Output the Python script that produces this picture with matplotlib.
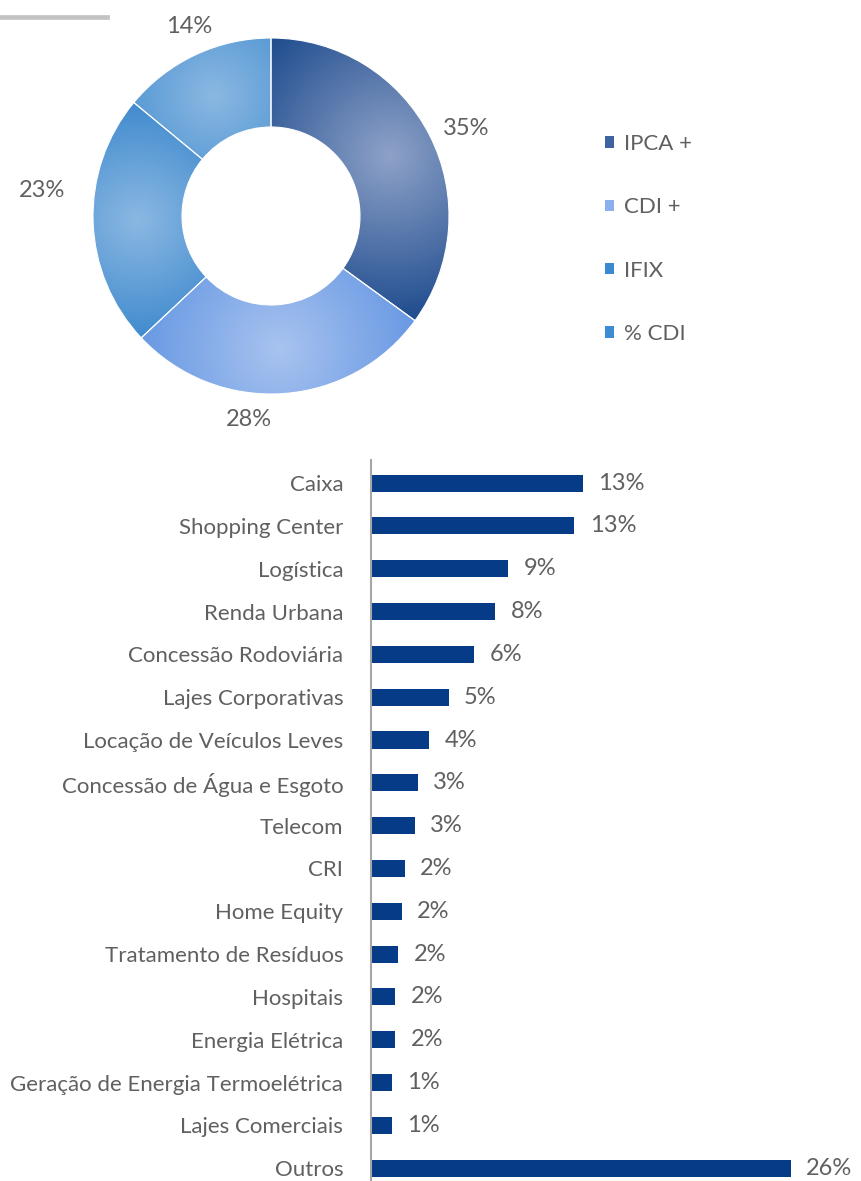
import numpy as np
import matplotlib
matplotlib.use("Agg")
import matplotlib.pyplot as plt
from matplotlib.patches import Patch, Wedge
from matplotlib.colors import LinearSegmentedColormap

plt.rcParams['font.family'] = ['Lato', 'DejaVu Sans']

# donut data
idx_names = ["IPCA +", "CDI +", "IFIX", "% CDI"]
idx_vals = [35, 28, 23, 14]
idx_light = ["#8ea2c8", "#a8c3ef", "#8bb8e2", "#8bb8e2"]
idx_dark = ["#234f90", "#5f93e2", "#267bc8", "#2a7ec9"]
idx_mid = ["#3f62a0", "#8ab0ee", "#3a8ad2", "#3c8cd3"]

# bar data
sectors = ["Caixa", "Shopping Center", "Logística", "Renda Urbana",
           "Concessão Rodoviária", "Lajes Corporativas",
           "Locação de Veículos Leves", "Concessão de Água e Esgoto",
           "Telecom", "CRI", "Home Equity", "Tratamento de Resíduos",
           "Hospitais", "Energia Elétrica",
           "Geração de Energia Termoelétrica", "Lajes Comerciais", "Outros"]
shares = [13.1, 12.6, 8.5, 7.7, 6.4, 4.8, 3.6, 2.9, 2.7, 2.1, 1.9, 1.7,
          1.5, 1.5, 1.3, 1.3, 26.0]
share_labels = ["13%", "13%", "9%", "8%", "6%", "5%", "4%", "3%", "3%",
                "2%", "2%", "2%", "2%", "2%", "1%", "1%", "26%"]

W, H = 862, 1181
fig = plt.figure(figsize=(W / 100, H / 100), dpi=100)
txt = "#606060"

# gray rule at top left
fig.add_artist(plt.Line2D([0, 107 / W], [1 - 17 / H, 1 - 17 / H],
                          color="#c3c3c3", lw=3.4))

# ---- donut ----
cx, cy, half = 271, 216, 200
ax = fig.add_axes([(cx - half) / W, 1 - (cy + half) / H, 2 * half / W, 2 * half / H])
lim = half / 178
wedges, _ = ax.pie(idx_vals, startangle=90, counterclock=False, radius=1,
                   wedgeprops=dict(width=0.5, edgecolor="white", linewidth=0.8))
ax.set_xlim(-lim, lim)
ax.set_ylim(-lim, lim)
ax.set_aspect("equal")
ax.axis("off")

# radial shading inside each wedge
gx, gy = np.meshgrid(np.linspace(-1, 1, 500), np.linspace(-1, 1, 500))
start = 90.0
for w, v, cl, cd in zip(wedges, idx_vals, idx_light, idx_dark):
    mid = np.deg2rad(start - v * 3.6 / 2)
    start -= v * 3.6
    mx, my = 0.75 * np.cos(mid), 0.75 * np.sin(mid)
    d = np.clip(np.hypot(gx - mx, gy - my) / 0.9, 0, 1)
    cmap = LinearSegmentedColormap.from_list("g", [cl, cd])
    im = ax.imshow(d, cmap=cmap, extent=(-1, 1, -1, 1), origin="lower",
                   vmin=0, vmax=1, zorder=w.get_zorder() + 0.5)
    im.set_clip_path(w)
    ax.add_patch(Wedge(w.center, w.r, w.theta1, w.theta2, width=w.width,
                       facecolor="none", edgecolor="white", linewidth=0.8,
                       zorder=5))

# excel-style "best fit" label spots (in radius units)
label_spots = [(1.096, 0.494), (-0.124, -1.146), (-1.287, 0.146), (-0.461, 1.067)]
for v, (lx, ly) in zip(idx_vals, label_spots):
    ax.text(lx, ly, f"{v}%", color=txt, fontsize=17, ha="center", va="center")

handles = [Patch(facecolor=c, edgecolor="none") for c in idx_mid]
fig.legend(handles, idx_names, loc="upper left",
           bbox_to_anchor=(585 / W, 1 - 114 / H), frameon=False,
           fontsize=16, labelcolor=txt, handlelength=0.42, handleheight=0.42,
           handletextpad=0.45, labelspacing=1.95)

# ---- bars ----
bx = fig.add_axes([371 / W, 0, 1 - 371 / W, (H - 460) / H])
y = np.arange(len(sectors))
bx.barh(y, shares, height=0.4, color="#063b87")
bx.set_xlim(0, (W - 371) / 16.15)
bx.set_ylim(len(sectors) - 1 + 0.3, -0.54)
bx.set_yticks(y)
bx.set_yticklabels(sectors, fontsize=16, color=txt)
bx.tick_params(axis="y", length=0, pad=20)
bx.set_xticks([])
for s in ["top", "right", "bottom"]:
    bx.spines[s].set_visible(False)
bx.spines["left"].set_color("#a6a6a6")
bx.spines["left"].set_linewidth(1.5)
for yi, v, lab in zip(y, shares, share_labels):
    bx.text(v + 0.95, yi, lab, va="center", ha="left", fontsize=17, color=txt)

fig.savefig("out.png", dpi=100)
